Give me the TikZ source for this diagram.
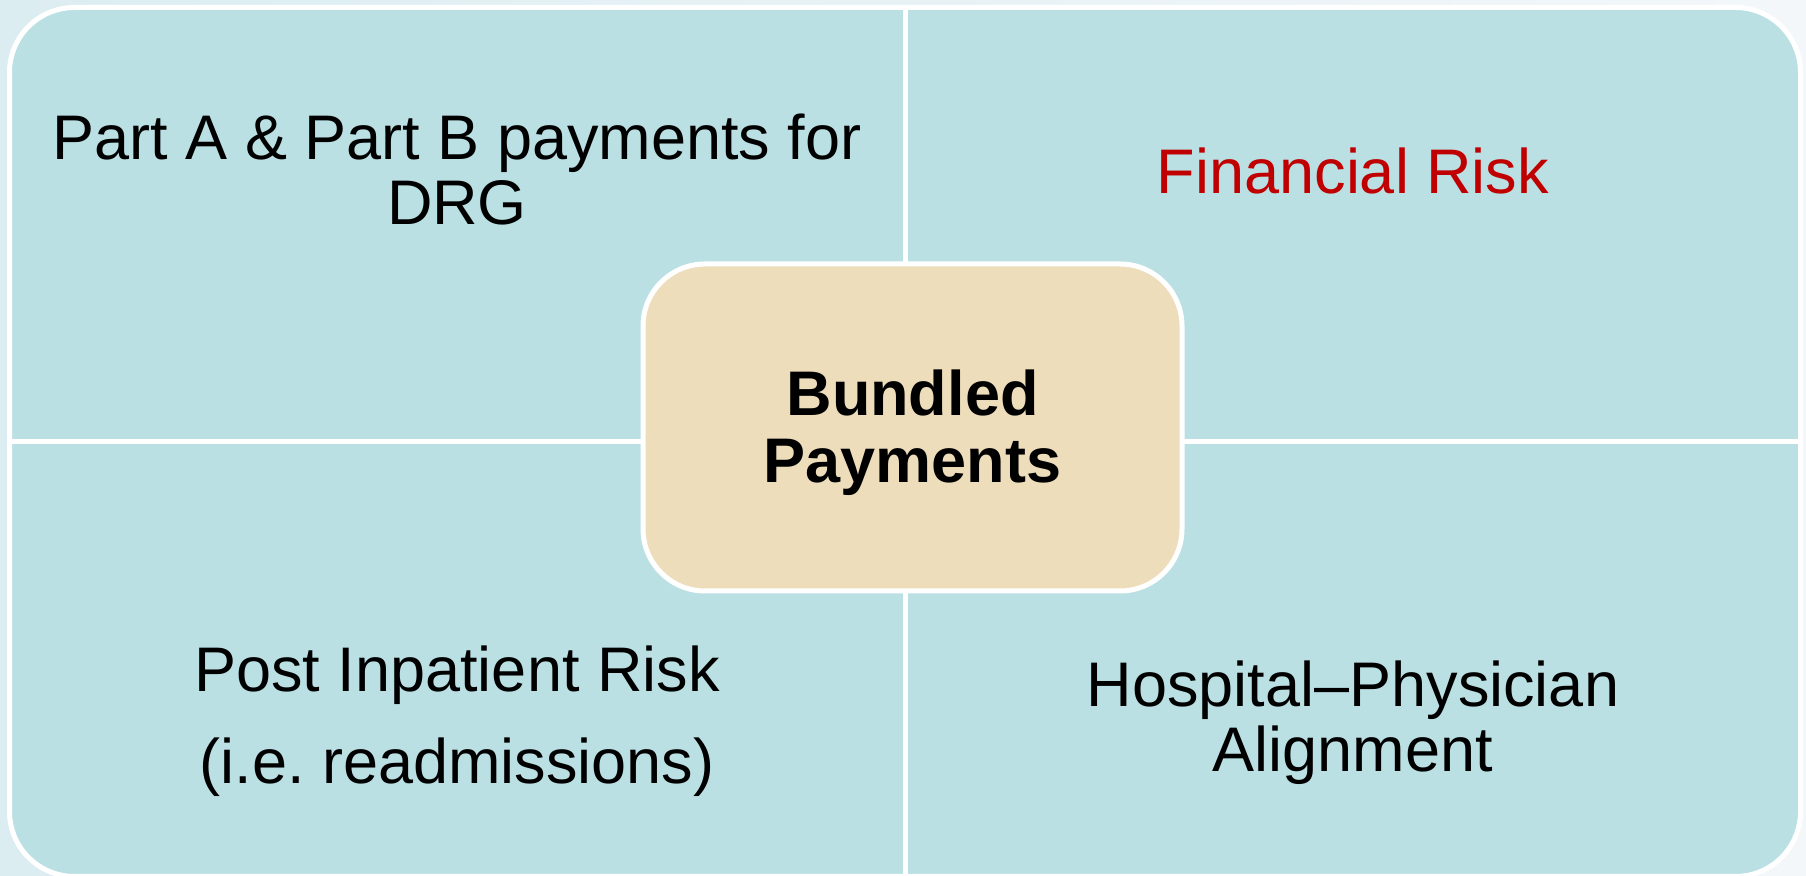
\documentclass[tikz,border=0pt]{standalone}
\usepackage{fontspec}
\setmainfont{Liberation Sans}
\usetikzlibrary{positioning}
\definecolor{bgleft}{RGB}{220,237,242}
\definecolor{bgright}{RGB}{243,247,250}
\definecolor{quadcyan}{RGB}{186,224,228}
\definecolor{hubsand}{RGB}{237,221,187}
\definecolor{riskred}{RGB}{192,0,0}
\tikzset{
  panelbox/.style={draw=white, line width=2.5pt, fill=quadcyan, rounded corners=32.5pt,
    inner sep=0pt, outer sep=0pt, minimum width=895.5pt, minimum height=434.5pt},
  hubbox/.style={draw=white, line width=2.5pt, fill=hubsand, rounded corners=31pt,
    inner sep=0pt, outer sep=0pt, minimum width=269.5pt, minimum height=163.5pt},
  hubtext/.style={align=center, inner sep=0pt, font=\bfseries\fontsize{31.5}{33.5}\selectfont},
  divider/.style={draw=white, line width=2.5pt},
  quadtext/.style={align=center, inner sep=0pt, font=\fontsize{31.5}{32.5}\selectfont}
}
\frenchspacing
\begin{document}
\begin{tikzpicture}[x=0.5pt, y=-0.5pt]
  \useasboundingbox (0,0) rectangle (1806,876);
  % background behind the panel
  \shade[left color=bgleft, right color=bgright] (0,0) rectangle (1806,876);
  \node[panelbox] (panel) at (905,442) {};
  \draw[divider] (panel.north) -- (panel.south);
  \draw[divider] (panel.west) -- (panel.east);
  \node[hubbox] (hub) at (912.5,427.5) {};
  \node[hubtext] (hubtitle) at ([yshift=-2.5pt]hub.center) {Bundled\\Payments};
  % quadrant texts
  \node[quadtext] (partab) at (457,170) {Part A \& Part B payments for\\DRG};
  \node[quadtext, text=riskred] (finrisk) at (1353,171) {Financial Risk};
  \node[quadtext, font=\fontsize{31.5}{46}\selectfont] (postrisk) at (457,721) {Post Inpatient Risk\\(i.e. readmissions)};
  \node[quadtext] (hpalign) at (1353,723) {Hospital--Physician\\Alignment};
\end{tikzpicture}
\end{document}
